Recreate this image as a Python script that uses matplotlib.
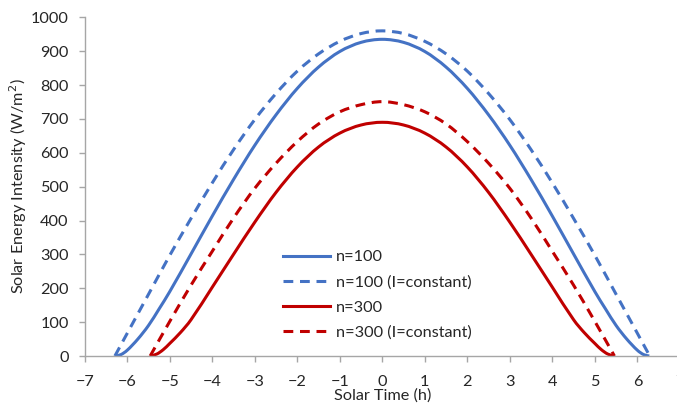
import matplotlib
matplotlib.use('Agg')
import matplotlib.pyplot as plt
from matplotlib.path import Path
from matplotlib.patches import PathPatch
from matplotlib.lines import Line2D

# values (solar time in hours, intensity W/m2)
t_n100 = [-6.28, -6.15, -6.0, -5.75, -5.5, -5.25, -5.0, -4.5, -4.0, -3.5, -3.0, -2.5, -2.0, -1.5, -1.0, -0.5, 0.0,
          0.5, 1.0, 1.5, 2.0, 2.5, 3.0, 3.5, 4.0, 4.5, 5.0, 5.25, 5.5, 5.75, 6.0, 6.15, 6.28]
i_n100 = [0, 4, 17, 50, 90, 139, 190, 301, 413, 521, 622, 712, 790, 853, 899, 926, 935,
          926, 899, 853, 790, 712, 622, 521, 413, 301, 190, 139, 90, 50, 17, 4, 0]

t_n100c = [-6.29, -6.0, -5.5, -5.0, -4.5, -4.0, -3.5, -3.0, -2.5, -2.0, -1.5, -1.0, -0.5, 0.0,
           0.5, 1.0, 1.5, 2.0, 2.5, 3.0, 3.5, 4.0, 4.5, 5.0, 5.5, 6.0, 6.29]
i_n100c = [0, 67, 182, 297, 406, 511, 609, 698, 775, 841, 892, 929, 952, 960,
           952, 929, 892, 841, 775, 698, 609, 511, 406, 297, 182, 67, 0]

t_n300 = [-5.45, -5.3, -5.15, -5.0, -4.75, -4.5, -4.0, -3.5, -3.0, -2.5, -2.0, -1.5, -1.0, -0.5, 0.0,
          0.5, 1.0, 1.5, 2.0, 2.5, 3.0, 3.5, 4.0, 4.5, 4.75, 5.0, 5.15, 5.3, 5.45]
i_n300 = [0, 6, 19, 37, 69, 107, 203, 300, 395, 483, 558, 617, 658, 682, 690,
          682, 658, 617, 558, 483, 395, 300, 203, 107, 69, 37, 19, 6, 0]

t_n300c = [-5.46, -5.0, -4.5, -4.0, -3.5, -3.0, -2.5, -2.0, -1.5, -1.0, -0.5, 0.0,
           0.5, 1.0, 1.5, 2.0, 2.5, 3.0, 3.5, 4.0, 4.5, 5.0, 5.46]
i_n300c = [0, 102, 209, 309, 407, 495, 569, 633, 685, 721, 742, 751,
           742, 721, 685, 633, 569, 495, 407, 309, 209, 102, 0]

labels = ['n=100', 'n=100 (I=constant)', 'n=300', 'n=300 (I=constant)']

plt.rcParams['font.family'] = ['Lato', 'DejaVu Sans']
fs = 11.7
plt.rcParams['font.size'] = fs

blue = '#4472C4'
red = '#C00000'
axis_gray = '#A6A6A6'
text_col = '#262626'
lw = 2.2
dash = (0, (3.2, 2.2))


def smooth_path(xs, ys):
    # smoothed line through the points (like a spreadsheet "smoothed line"), bezier segments
    n = len(xs)
    slopes = []
    for i in range(n):
        a = max(i - 1, 0)
        b = min(i + 1, n - 1)
        slopes.append((ys[b] - ys[a]) / (xs[b] - xs[a]))
    verts = [(xs[0], ys[0])]
    codes = [Path.MOVETO]
    for i in range(n - 1):
        h = xs[i + 1] - xs[i]
        verts.append((xs[i] + h / 3, ys[i] + slopes[i] * h / 3))
        verts.append((xs[i + 1] - h / 3, ys[i + 1] - slopes[i + 1] * h / 3))
        verts.append((xs[i + 1], ys[i + 1]))
        codes += [Path.CURVE4] * 3
    return Path(verts, codes)


fig = plt.figure(figsize=(6.77, 4.08), dpi=100)
ax = fig.add_axes([84.7 / 677, 52 / 408, (679.9 - 84.7) / 677, (390.7 - 52) / 408])

series = [(t_n100, i_n100, blue, '-'), (t_n100c, i_n100c, blue, dash),
          (t_n300, i_n300, red, '-'), (t_n300c, i_n300c, red, dash)]
handles = []
for (xs, ys, c, ls), lab in zip(series, labels):
    ax.add_patch(PathPatch(smooth_path(xs, ys), facecolor='none', edgecolor=c, lw=lw,
                           linestyle=ls, capstyle='butt', joinstyle='round'))
    handles.append(Line2D([], [], color=c, lw=lw, linestyle=ls))

ax.set_xlim(-7, 7)
ax.set_ylim(0, 1000)
ax.set_xticks(range(-7, 8))
ax.set_yticks(range(0, 1001, 100))

for s in ['top', 'right']:
    ax.spines[s].set_visible(False)
for s in ['left', 'bottom']:
    ax.spines[s].set_color(axis_gray)
    ax.spines[s].set_linewidth(1.0)
ax.tick_params(axis='both', colors=axis_gray, length=4.5, width=1.0, labelcolor=text_col, labelsize=fs)
ax.tick_params(axis='x', pad=9)
ax.tick_params(axis='y', pad=7)

ax.set_xlabel('Solar Time (h)', color=text_col, fontsize=fs, labelpad=0)
ax.set_ylabel('Solar Energy Intensity (W/m$^2$)', color=text_col, fontsize=fs, labelpad=1)

leg = ax.legend(handles, labels, loc='upper left', bbox_to_anchor=(283 / 677, 158 / 408),
                bbox_transform=fig.transFigure, frameon=False, fontsize=fs, handlelength=2.9,
                handletextpad=0.37, labelspacing=0.66, borderpad=0, borderaxespad=0)
for txt in leg.get_texts():
    txt.set_color(text_col)

fig.savefig('out.png', dpi=100)
